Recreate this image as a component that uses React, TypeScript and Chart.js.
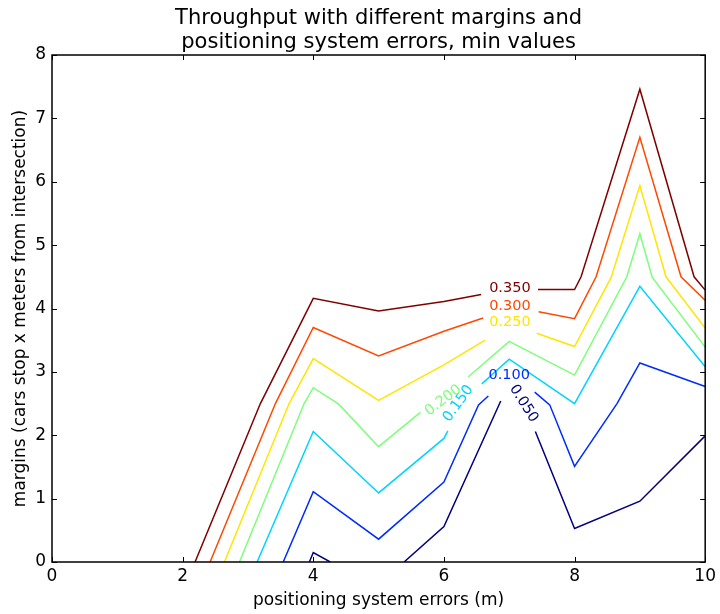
import React, { useEffect, useRef } from 'react';
import { Chart, registerables } from 'chart.js';

Chart.register(...registerables);

const FONT = '"DejaVu Sans", "Liberation Sans", sans-serif';

// Contour levels and their colours (jet colormap)
const levelLabels = ['0.050', '0.100', '0.150', '0.200', '0.250', '0.300', '0.350'];
const levelColors = ['#000080', '#002cff', '#00d4ff', '#7dff7a', '#ffe500', '#ff4800', '#800000'];

// Contour paths: each level is a list of segments, each segment a list of [x, y]
const contour050 = [
  [[3.94, 0], [4.0, 0.15], [4.26, 0]],
  [[5.39, 0], [6.0, 0.56], [6.87, 2.54]],
  [[7.4, 2.06], [8.0, 0.53], [9.0, 0.96], [10.0, 1.99]],
];
const contour100 = [
  [[3.54, 0], [4.0, 1.11], [5.0, 0.36], [6.0, 1.26], [6.53, 2.48], [6.68, 2.62]],
  [[7.39, 2.68], [7.62, 2.48], [8.0, 1.51], [8.65, 2.5], [9.0, 3.14], [10.0, 2.77]],
];
const contour150 = [
  [[3.14, 0], [4.0, 2.06], [5.0, 1.09], [6.0, 1.95], [6.06, 2.07]],
  [[6.58, 2.81], [7.0, 3.2], [8.0, 2.5], [9.0, 4.35], [10.0, 3.08]],
];
const contour200 = [
  [[2.87, 0], [3.86, 2.5], [4.0, 2.75], [4.39, 2.49], [5.0, 1.82], [5.64, 2.36]],
  [[6.37, 2.92], [7.0, 3.48], [8.0, 2.95], [8.8, 4.5], [9.0, 5.18], [9.19, 4.49], [10.0, 3.39]],
];
const contour250 = [
  [[2.64, 0], [3.63, 2.5], [4.0, 3.21], [5.0, 2.55], [6.0, 3.11], [6.63, 3.5]],
  [[7.42, 3.61], [8.0, 3.4], [8.56, 4.49], [9.0, 5.94], [9.4, 4.5], [10.0, 3.69]],
];
const contour300 = [
  [[2.42, 0], [3.42, 2.5], [4.0, 3.7], [5.0, 3.25], [6.0, 3.64], [6.6, 3.85]],
  [[7.45, 3.95], [8.0, 3.84], [8.33, 4.5], [9.0, 6.7], [9.63, 4.5], [10.0, 4.13]],
];
const contour350 = [
  [[2.19, 0], [3.19, 2.5], [4.0, 4.16], [5.0, 3.96], [6.0, 4.11], [6.57, 4.22]],
  [[7.44, 4.3], [8.0, 4.3], [8.1, 4.5], [9.0, 7.46], [9.83, 4.5], [10.0, 4.29]],
];
const contours = [contour050, contour100, contour150, contour200, contour250, contour300, contour350];

// Inline contour label anchors [x, y] and rotation (degrees)
const labelAnchors = [
  [7.22, 2.5],
  [7.0, 2.95],
  [6.22, 2.5],
  [5.99, 2.55],
  [7.01, 3.78],
  [7.01, 4.04],
  [7.01, 4.32],
];
const labelRotations = [58, 0, -54, -37, 0, 0, 0];

const xTicks = [0, 2, 4, 6, 8, 10];
const yTicks = [0, 1, 2, 3, 4, 5, 6, 7, 8];

const titleLines = ['Throughput with different margins and', 'positioning system errors, min values'];
const xTitle = 'positioning system errors (m)';
const yTitle = 'margins (cars stop x meters from intersection)';

const framePlugin = {
  id: 'frameTicks',
  afterDatasetsDraw(chart: any) {
    const { ctx, chartArea: a, scales } = chart;
    const xs = scales.x;
    const ys = scales.y;
    ctx.save();
    ctx.strokeStyle = '#000';
    ctx.lineWidth = 1;
    const L = 5;
    ctx.beginPath();
    xTicks.forEach((v) => {
      const px = Math.round(xs.getPixelForValue(v)) + 0.5;
      ctx.moveTo(px, a.bottom);
      ctx.lineTo(px, a.bottom - L);
      ctx.moveTo(px, a.top);
      ctx.lineTo(px, a.top + L);
    });
    yTicks.forEach((v) => {
      const py = Math.round(ys.getPixelForValue(v)) + 0.5;
      ctx.moveTo(a.left, py);
      ctx.lineTo(a.left + L, py);
      ctx.moveTo(a.right, py);
      ctx.lineTo(a.right - L, py);
    });
    ctx.stroke();
    ctx.lineWidth = 1.5;
    ctx.strokeRect(a.left, a.top, a.right - a.left, a.bottom - a.top);
    // inline contour labels
    ctx.font = `14.5px ${FONT}`;
    ctx.textAlign = 'center';
    ctx.textBaseline = 'middle';
    labelAnchors.forEach((p, i) => {
      const px = xs.getPixelForValue(p[0]);
      const py = ys.getPixelForValue(p[1]);
      ctx.save();
      ctx.translate(px, py);
      ctx.rotate((labelRotations[i] * Math.PI) / 180);
      ctx.fillStyle = levelColors[i];
      ctx.fillText(levelLabels[i], 0, 0);
      ctx.restore();
    });
    ctx.restore();
  },
};

export default function App() {
  const ref = useRef<HTMLCanvasElement>(null);
  useEffect(() => {
    const datasets: any[] = [];
    contours.forEach((segs, li) => {
      segs.forEach((seg) => {
        datasets.push({
          label: levelLabels[li],
          data: seg.map((p) => ({ x: p[0], y: p[1] })),
          borderColor: levelColors[li],
          backgroundColor: levelColors[li],
          borderWidth: 1.5,
          pointRadius: 0,
          fill: false,
          tension: 0,
        });
      });
    });
    const chart = new Chart(ref.current as HTMLCanvasElement, {
      type: 'line',
      data: { datasets },
      options: {
        responsive: false,
        animation: false,
        layout: { padding: { left: 0, right: 12, top: 0, bottom: 0 } },
        plugins: {
          legend: { display: false },
          tooltip: { enabled: false },
          title: {
            display: true,
            fullSize: false,
            text: titleLines,
            color: '#000',
            font: { family: FONT, size: 21, weight: 'normal', lineHeight: 24 / 21 },
            padding: { top: 7, bottom: 0 },
          },
        },
        scales: {
          x: {
            type: 'linear',
            min: 0,
            max: 10,
            afterBuildTicks: (s: any) => {
              s.ticks = xTicks.map((v) => ({ value: v }));
            },
            afterFit: (s: any) => {
              s.height = 52;
            },
            ticks: { color: '#000', font: { family: FONT, size: 17 }, padding: 4, maxRotation: 0 },
            grid: { display: false, drawTicks: false },
            border: { display: false },
            title: {
              display: true,
              text: xTitle,
              color: '#000',
              font: { family: FONT, size: 17 },
              padding: { top: 0, bottom: 3 },
            },
          },
          y: {
            type: 'linear',
            min: 0,
            max: 8,
            afterBuildTicks: (s: any) => {
              s.ticks = yTicks.map((v) => ({ value: v }));
            },
            afterFit: (s: any) => {
              s.width = 52;
            },
            ticks: { color: '#000', font: { family: FONT, size: 17 }, padding: 6 },
            grid: { display: false, drawTicks: false },
            border: { display: false },
            title: {
              display: true,
              text: yTitle,
              color: '#000',
              font: { family: FONT, size: 17 },
              padding: { top: 10, bottom: 0 },
            },
          },
        },
      },
      plugins: [framePlugin],
    } as any);
    return () => chart.destroy();
  }, []);
  return (
    <div style={{ position: 'fixed', left: 0, top: 0, width: 720, height: 614, background: '#fff' }}>
      <canvas ref={ref} width={720} height={614} style={{ display: 'block' }} />
    </div>
  );
}
